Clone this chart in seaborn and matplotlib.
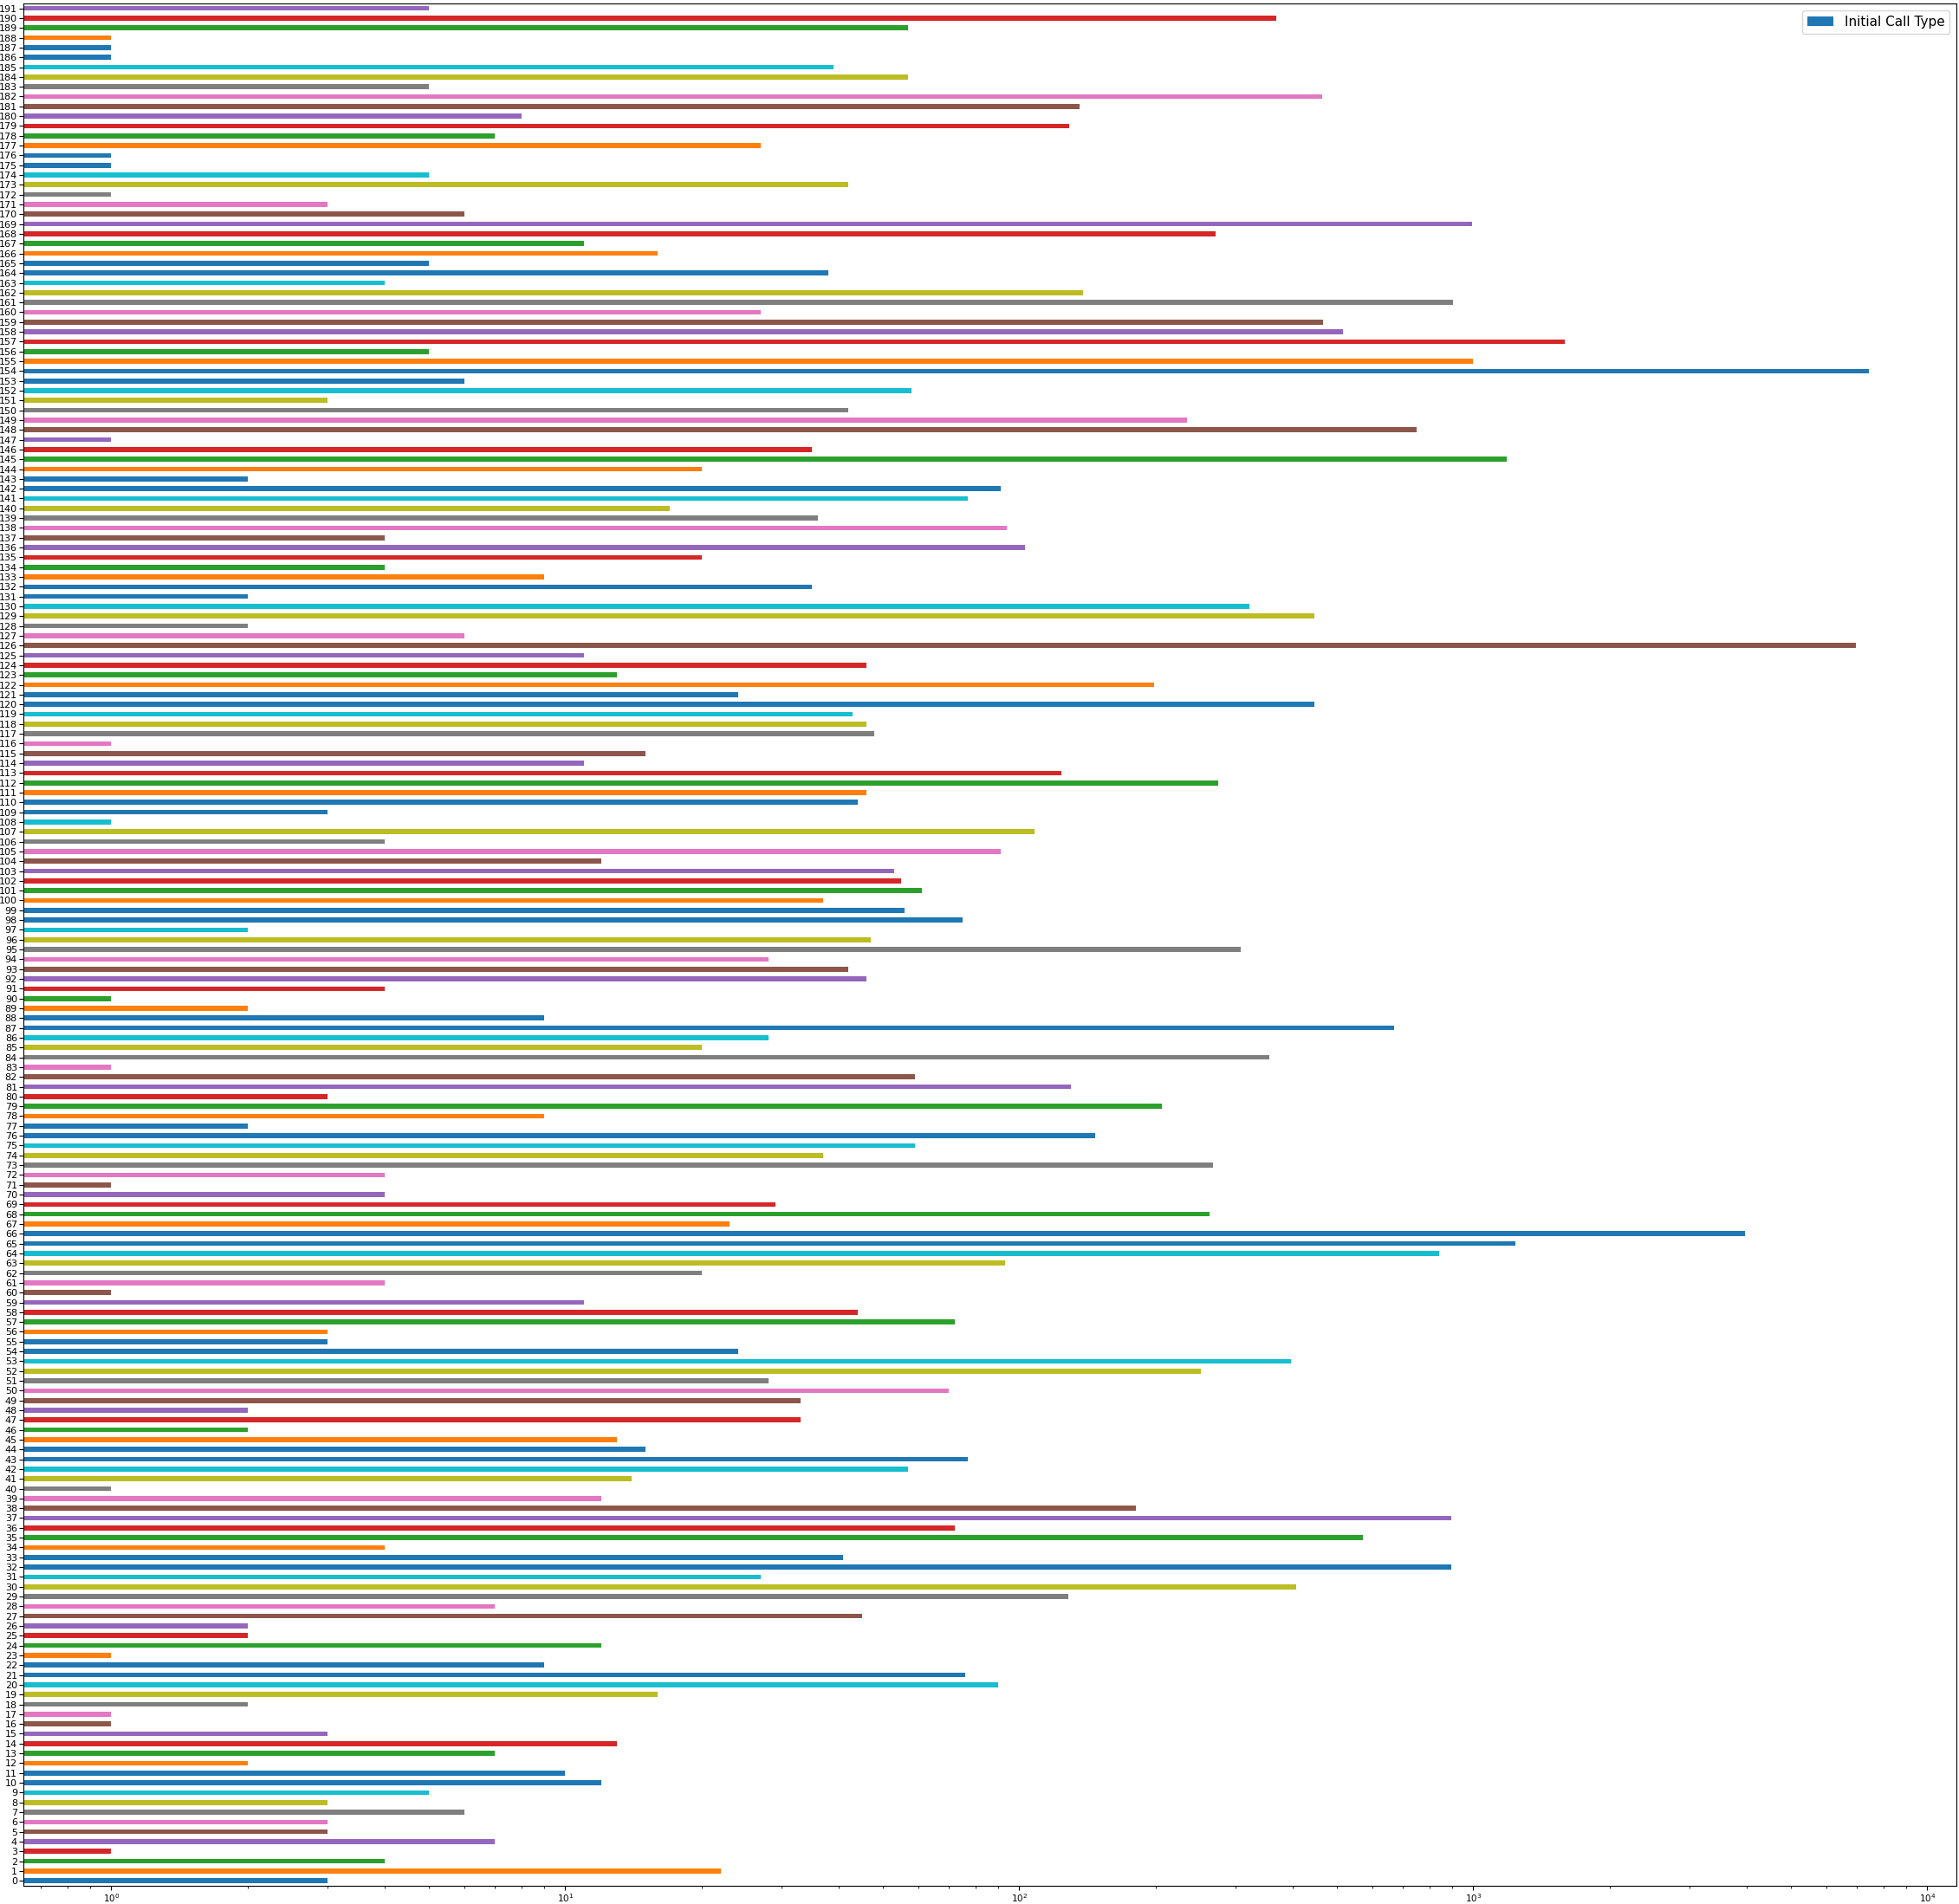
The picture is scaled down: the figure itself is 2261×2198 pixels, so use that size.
import numpy as np
import pandas as pd
import matplotlib
matplotlib.use("Agg")
import matplotlib.pyplot as plt
from matplotlib.patches import Patch
import seaborn as sns

# counts per row index
row_index = list(range(192))
counts = [
    3, 22, 4, 1, 7, 3, 3, 6, 3, 5,            # 0-9
    12, 10, 2, 7, 13, 3, 1, 1, 2, 16,         # 10-19
    90, 76, 9, 1, 12, 2, 2, 45, 7, 128,       # 20-29
    408, 27, 895, 41, 4, 572, 72, 895, 181, 12,   # 30-39
    1, 14, 57, 77, 15, 13, 2, 33, 2, 33,      # 40-49
    70, 28, 251, 396, 24, 3, 3, 72, 44, 11,   # 50-59
    1, 4, 20, 93, 843, 1241, 3963, 23, 262, 29,   # 60-69
    4, 1, 4, 267, 37, 59, 147, 2, 9, 206,     # 70-79
    3, 130, 59, 1, 356, 20, 28, 670, 9, 2,    # 80-89
    1, 4, 46, 42, 28, 307, 47, 2, 75, 56,     # 90-99
    37, 61, 55, 53, 12, 91, 4, 108, 1, 3,     # 100-109
    44, 46, 274, 124, 11, 15, 1, 48, 46, 43,  # 110-119
    446, 24, 198, 13, 46, 11, 6980, 6, 2, 446,   # 120-129
    321, 2, 35, 9, 4, 20, 103, 4, 94, 36,     # 130-139
    17, 77, 91, 2, 20, 1187, 35, 1, 752, 234, # 140-149
    42, 3, 58, 6, 7450, 1000, 5, 1589, 517, 467,  # 150-159
    27, 903, 138, 4, 38, 5, 16, 11, 271, 996, # 160-169
    6, 3, 1, 42, 5, 1, 1, 27, 7, 129,         # 170-179
    8, 136, 464, 5, 57, 39, 1, 1, 1, 57,      # 180-189
    369, 5,                                   # 190-191
]
series_name = "Initial Call Type"

df = pd.DataFrame({"idx": [str(i) for i in row_index], "count": counts})

# 11-long colour list (tab10 + blue again) repeated over the rows
tab10 = sns.color_palette("tab10", 10)
palette = {str(i): tab10[(i % 11) % 10] for i in row_index}
order = [str(i) for i in row_index][::-1]

fig = plt.figure(figsize=(22.61, 21.98), dpi=100)
ax = fig.add_axes([0.0119, 0.0096, 0.9868, 0.9886])

sns.barplot(data=df, x="count", y="idx", hue="idx", order=order, hue_order=order,
            palette=palette, width=0.5, legend=False, log_scale=(True, False),
            saturation=1, ax=ax)

ax.set_xscale("log")
ax.set_xlim(0.64, 11600)
ax.set_ylim(len(row_index) - 0.5, -0.5)
ax.set_xlabel("")
ax.set_ylabel("")
ax.tick_params(axis="y", labelsize=8, pad=1.5, length=3.5)
ax.tick_params(axis="x", labelsize=7.5, pad=2)
for s in ax.spines.values():
    s.set_visible(True)
    s.set_color("black")

ax.legend(handles=[Patch(facecolor=tab10[0], label=series_name)],
          loc="upper right", fontsize=11)

fig.savefig("out.png", dpi=100)
